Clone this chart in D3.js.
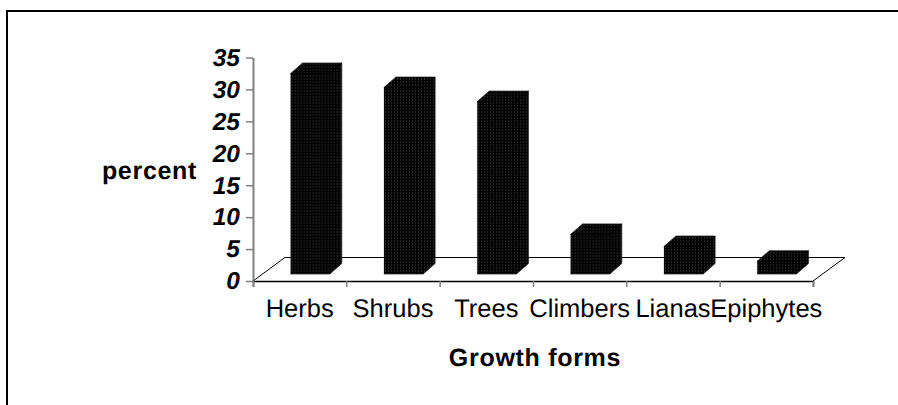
<!DOCTYPE html>
<html>
<head>
<meta charset="utf-8">
<script src="https://cdn.jsdelivr.net/npm/d3@7"></script>
<style>
html, body { margin: 0; padding: 0; background: #fff; }
svg { display: block; }
text { font-family: "Liberation Sans", Arial, sans-serif; fill: #000; text-rendering: geometricPrecision; }
</style>
</head>
<body>
<svg id="chart" width="898" height="405"></svg>
<script>
var categories = ["Herbs", "Shrubs", "Trees", "Climbers", "Lianas", "Epiphytes"];
var percents = [31.4, 29.2, 27, 6.2, 4.3, 2];
var yTicks = [0, 5, 10, 15, 20, 25, 30, 35];

var svg = d3.select("#chart");

var margin = { top: 57.5, right: 85, bottom: 124, left: 253 },
    width = +svg.attr("width") - margin.left - margin.right,
    height = +svg.attr("height") - margin.top - margin.bottom;

// floor depth of the fake 3d plot, and depth of each bar
var floorDx = 32, floorDy = 23.5, barDx = 12, barDy = 10.5;

var defs = svg.append("defs");
var dots = defs.append("pattern")
    .attr("id", "dots")
    .attr("width", 3)
    .attr("height", 3)
    .attr("patternUnits", "userSpaceOnUse");
dots.append("rect").attr("width", 3).attr("height", 3).attr("fill", "#000");
dots.append("rect").attr("x", 1).attr("y", 1).attr("width", 1).attr("height", 1).attr("fill", "#505050");

// outer frame, only top and left show
svg.append("path")
    .attr("d", d3.line()([[7, 405], [7, 11], [898, 11]]))
    .attr("fill", "none")
    .attr("stroke", "#000")
    .attr("stroke-width", 2);

var g = svg.append("g").attr("transform", "translate(" + margin.left + "," + margin.top + ")");

var x = d3.scaleBand()
    .domain(categories)
    .range([0, width])
    .paddingInner(0.58)
    .paddingOuter(0.29);

var xEdge = d3.scaleLinear().domain([0, categories.length]).range([0, width]);

var y = d3.scaleLinear()
    .domain([0, 35])
    .range([height, 0]);

// floor
g.append("path")
    .attr("d", d3.line()([[0, height], [floorDx, height - floorDy], [width + floorDx, height - floorDy], [width, height]]))
    .attr("fill", "none")
    .attr("stroke", "#000")
    .attr("stroke-width", 1);

// bars
var bar = g.append("g")
    .selectAll("g")
    .data(categories)
    .enter().append("g")
      .attr("transform", function(d) { return "translate(" + (x(d) + 10.5) + ",-7)"; });

bar.append("path")
    .attr("fill", "url(#dots)")
    .attr("stroke", "#222")
    .attr("stroke-width", 0.75)
    .attr("d", function(d, i) {
      var w = x.bandwidth(), top = y(percents[i]);
      return d3.line()([[0, top], [barDx, top - barDy], [w + barDx, top - barDy], [w + barDx, height - barDy], [w, height], [0, height]]);
    });

bar.append("path")
    .attr("fill", "none")
    .attr("stroke", "#000")
    .attr("stroke-width", 1)
    .attr("d", function(d, i) {
      var w = x.bandwidth(), top = y(percents[i]);
      return d3.line()([[0, top], [w, top], [w + barDx, top - barDy]]) + d3.line()([[w, top], [w, height]]);
    });

// y axis
var yAxis = g.append("g")
    .call(d3.axisLeft(y).tickValues(yTicks).tickSize(7).tickSizeOuter(0).tickPadding(6));
yAxis.select(".domain").attr("stroke", "#808080").attr("stroke-width", 2);
yAxis.selectAll("line").attr("stroke", "#808080").attr("stroke-width", 1.5);
yAxis.selectAll("text")
    .attr("font-family", "Liberation Sans")
    .attr("font-size", 24.5)
    .attr("font-weight", "bold")
    .attr("font-style", "italic");

// x axis: ticks sit on the category edges, labels in the middle
var xTicks = g.append("g")
    .attr("transform", "translate(0," + height + ")")
    .call(d3.axisBottom(xEdge).tickValues(d3.range(categories.length + 1)).tickSize(6).tickFormat(""));
xTicks.select(".domain").attr("stroke", "#000").attr("stroke-width", 1.5);
xTicks.selectAll("line").attr("stroke", "#808080").attr("stroke-width", 1.5);

var xLabels = g.append("g")
    .attr("transform", "translate(0," + height + ")")
    .call(d3.axisBottom(x).tickSize(0).tickPadding(18));
xLabels.select(".domain").remove();
xLabels.selectAll("text")
    .attr("font-family", "Liberation Sans")
    .attr("font-size", 25.5);

// axis titles
svg.append("text")
    .attr("x", 149.5)
    .attr("y", 170)
    .attr("dy", "0.35em")
    .attr("text-anchor", "middle")
    .attr("font-size", 25)
    .attr("letter-spacing", 0.7)
    .attr("font-weight", "bold")
    .text("percent");

svg.append("text")
    .attr("x", 535)
    .attr("y", 357)
    .attr("dy", "0.35em")
    .attr("text-anchor", "middle")
    .attr("font-size", 25)
    .attr("letter-spacing", 0.7)
    .attr("font-weight", "bold")
    .text("Growth forms");
</script>
</body>
</html>
